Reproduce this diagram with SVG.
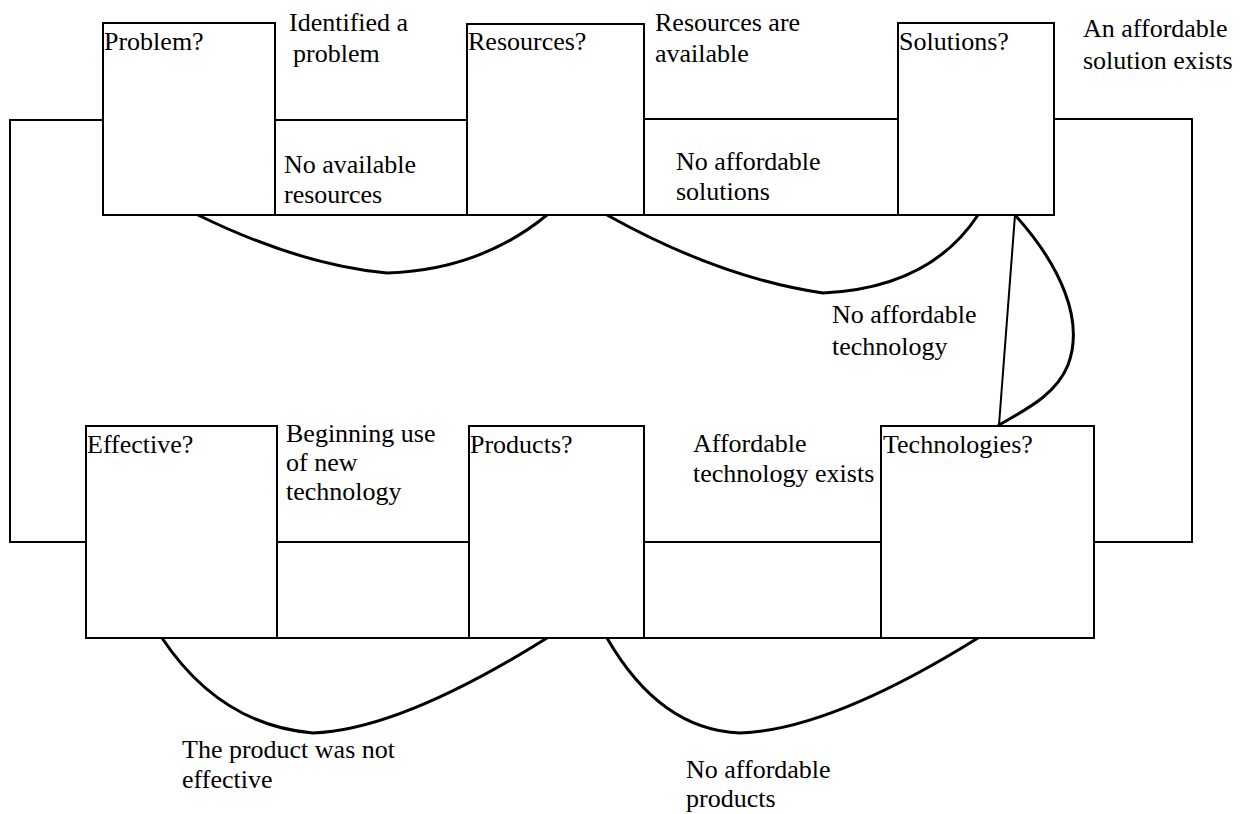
<svg xmlns="http://www.w3.org/2000/svg" width="1254" height="814" viewBox="0 0 1254 814">
<style>
  .box { fill: #fff; stroke: #000; stroke-width: 2; }
  .ln { fill: none; stroke: #000; stroke-width: 2; }
  .cv { fill: none; stroke: #000; stroke-width: 3; stroke-linecap: round; }
  text { font-size: 26px; fill: #000; }
</style>
<rect width="1254" height="814" fill="#fff"/>
<g id="connectors">
  <polyline class="ln" points="103,120 10,120 10,542 86,542"/>
  <polyline class="ln" points="1054,119 1192,119 1192,542 1094,542"/>
  <line class="ln" x1="275" y1="120" x2="467" y2="120"/>
  <line class="ln" x1="275" y1="215" x2="467" y2="215"/>
  <line class="ln" x1="644" y1="119" x2="898" y2="119"/>
  <line class="ln" x1="644" y1="215" x2="898" y2="215"/>
  <line class="ln" x1="277" y1="542" x2="469" y2="542"/>
  <line class="ln" x1="277" y1="638" x2="469" y2="638"/>
  <line class="ln" x1="644" y1="542" x2="881" y2="542"/>
  <line class="ln" x1="644" y1="638" x2="881" y2="638"/>
  <path class="cv" d="M198,215 Q300,265 387,273 Q480,270 547,215"/>
  <path class="cv" d="M607,215 Q720,278 823,293 Q930,288 978,215"/>
  <line class="ln" x1="1015" y1="215" x2="999" y2="425"/>
  <path class="cv" d="M1015,215 C1060,265 1085,320 1068,365 C1056,395 1025,410 999,425"/>
  <path class="cv" d="M162,638 Q220,725 313,733 Q400,730 547,638"/>
  <path class="cv" d="M607,638 Q660,730 740,733 Q830,730 978,638"/>
</g>
<g font-family="'Liberation Serif', 'Times New Roman', 'DejaVu Serif', serif">
<g id="node-problem">
  <rect class="box" x="103" y="23" width="172" height="192"/>
  <text x="104" y="50">Problem?</text>
</g>
<g id="node-resources">
  <rect class="box" x="467" y="24" width="177" height="191"/>
  <text x="468" y="50">Resources?</text>
</g>
<g id="node-solutions">
  <rect class="box" x="898" y="23" width="156" height="192"/>
  <text x="899" y="50">Solutions?</text>
</g>
<g id="node-effective">
  <rect class="box" x="86" y="426" width="191" height="212"/>
  <text x="87" y="453">Effective?</text>
</g>
<g id="node-products">
  <rect class="box" x="469" y="426" width="175" height="212"/>
  <text x="470" y="453">Products?</text>
</g>
<g id="node-technologies">
  <rect class="box" x="881" y="426" width="213" height="212"/>
  <text x="883" y="453">Technologies?</text>
</g>
<g id="labels">
  <text x="289" y="31">Identified a</text>
  <text x="293" y="62">problem</text>
  <text x="284" y="173">No available</text>
  <text x="284" y="203">resources</text>
  <text x="655" y="31">Resources are</text>
  <text x="655" y="62">available</text>
  <text x="676" y="170">No affordable</text>
  <text x="676" y="200">solutions</text>
  <text x="1083" y="37">An affordable</text>
  <text x="1083" y="69">solution exists</text>
  <text x="832" y="323">No affordable</text>
  <text x="832" y="355">technology</text>
  <text x="286" y="442">Beginning use</text>
  <text x="286" y="471">of new</text>
  <text x="286" y="500">technology</text>
  <text x="693" y="452">Affordable</text>
  <text x="693" y="482">technology exists</text>
  <text x="182" y="758">The product was not</text>
  <text x="182" y="788">effective</text>
  <text x="686" y="778">No affordable</text>
  <text x="686" y="807">products</text>
</g>
</g>
</svg>
